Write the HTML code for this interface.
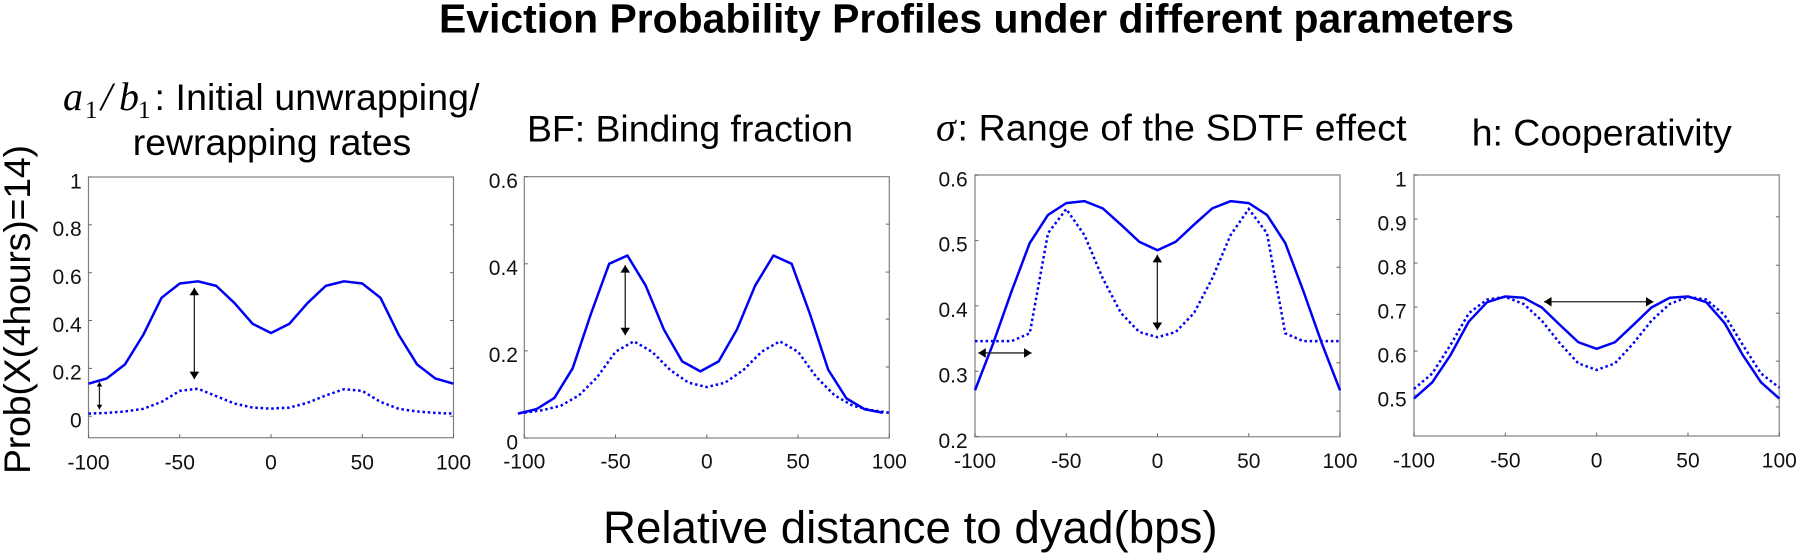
<!DOCTYPE html>
<html lang="en">
<head>
<meta charset="utf-8">
<title>Eviction Probability Profiles under different parameters</title>
<style>
html,body{margin:0;padding:0;background:#fff;width:1800px;height:557px;overflow:hidden}
svg{display:block}
text{font-family:"Liberation Sans",sans-serif;fill:#000}
.math{font-family:"Liberation Serif",serif;font-style:italic;font-size:40px}
.sub{font-family:"Liberation Serif",serif;font-size:25px}
.pt{font-size:37.4px}
.tick{font-size:21px;fill:#111}
</style>
</head>
<body>
<svg id="fig" xmlns="http://www.w3.org/2000/svg" width="1800" height="557" viewBox="0 0 1800 557">
  <rect width="1800" height="557" fill="#fff"/>
  <text x="439" y="32.3" font-size="41" font-weight="700" textLength="1075" lengthAdjust="spacingAndGlyphs">Eviction Probability Profiles under different parameters</text>

  <g>
    <text class="math" x="63" y="110">a</text>
    <text class="sub" x="85" y="118">1</text>
    <text class="math" x="101" y="110">/</text>
    <text class="math" x="119" y="110">b</text>
    <text class="sub" x="138" y="118">1</text>
  </g>
  <text class="pt" x="154.5" y="110" textLength="325" lengthAdjust="spacing">: Initial unwrapping/</text>
  <text class="pt" x="272" y="155" text-anchor="middle">rewrapping rates</text>
  <text class="pt" x="527" y="141.7" textLength="326" lengthAdjust="spacing">BF: Binding fraction</text>
  <text class="math" x="936" y="140.7">σ</text>
  <text class="pt" x="957.5" y="140.7" textLength="449" lengthAdjust="spacing">: Range of the SDTF effect</text>
  <text class="pt" x="1471.7" y="145.7" textLength="260" lengthAdjust="spacing">h: Cooperativity</text>

  <text class="pt" transform="translate(30,474) rotate(-90)" textLength="329" lengthAdjust="spacing">Prob(X(4hours)=14)</text>
  <text x="603" y="543" font-size="45.7">Relative distance to dyad(bps)</text>
</svg>

<script>
// Shared x categories and tick labels
const distances = [-100,-90,-80,-70,-60,-50,-40,-30,-20,-10,0,10,20,30,40,50,60,70,80,90,100];
const xTicks = [-100,-50,0,50,100];

// Panel 1: a1/b1
const p1Solid  = [.136,.158,.217,.34,.495,.555,.564,.545,.473,.386,.348,.386,.473,.545,.564,.555,.495,.34,.217,.158,.136];
const p1Dotted = [.011,.014,.02,.031,.06,.106,.115,.084,.053,.036,.032,.036,.056,.087,.113,.106,.06,.031,.02,.014,.011];
const p1YTicks = [0,.2,.4,.6,.8,1];
const p1YLabels = ["0","0.2","0.4","0.6","0.8","1"];
const p1RightTicks = [0,.2,.4,.6,.8];
const p1ArrowStarts = [[-42,.537],[-94,.143]];
const p1ArrowEnds = [[-42,.155],[-94,.029]];

// Panel 2: binding fraction (the solid trace sits slightly left of the axis origin)
const p2SolidDistances = [-103.5,-93.5,-83.5,-73.5,-63.5,-53.5,-43.5,-33.5,-23.5,-13.5,-3.5,6.5,16.5,26.5,36.5,46.5,56.5,66.5,76.5,86.5,96.5];
const p2Solid  = [.056,.066,.092,.16,.285,.40,.419,.35,.249,.176,.153,.176,.249,.35,.419,.40,.285,.157,.091,.066,.058];
const p2Dotted = [.058,.064,.074,.098,.14,.198,.222,.198,.156,.127,.117,.127,.156,.198,.222,.198,.14,.098,.074,.064,.058];
const p2YTicks = [0,.2,.4,.6];
const p2YLabels = ["0","0.2","0.4","0.6"];
const p2RightTicks = [.057,.163,.273,.381,.491];
const p2ArrowStarts = [[-44.7,.397]];
const p2ArrowEnds = [[-44.7,.236]];

// Panel 3: sigma
const p3Solid  = [.271,.343,.422,.496,.539,.557,.56,.549,.524,.498,.485,.498,.524,.549,.56,.557,.539,.496,.422,.343,.271];
const p3Dotted = [.346,.346,.346,.358,.511,.548,.508,.442,.389,.36,.352,.36,.389,.442,.508,.548,.511,.358,.346,.346,.346];
const p3YTicks = [.2,.3,.4,.5,.6];
const p3YLabels = ["0.2","0.3","0.4","0.5","0.6"];
const p3RightTicks = [.239,.313,.387,.459,.532];
const p3ArrowStarts = [[-.1,.478],[-98.2,.328]];
const p3ArrowEnds = [[-.1,.363],[-69,.328]];

// Panel 4: cooperativity
const p4Solid  = [.492,.529,.591,.667,.711,.724,.721,.699,.659,.62,.605,.62,.659,.699,.721,.724,.711,.664,.591,.529,.492];
const p4Dotted = [.514,.549,.614,.686,.717,.723,.707,.669,.617,.572,.557,.572,.617,.669,.707,.723,.717,.682,.614,.549,.517];
const p4YTicks = [.5,.6,.7,.8,.9,1];
const p4YLabels = ["0.5","0.6","0.7","0.8","0.9","1"];
const p4RightTicks = [.473,.577,.686,.795,.905];
const p4ArrowStarts = [[-28.8,.712]];
const p4ArrowEnds = [[31.1,.712]];

const NS = "http://www.w3.org/2000/svg";
const svg = document.getElementById("fig");
function mk(tag, attrs, parent){
  const el = document.createElementNS(NS, tag);
  for (const k in attrs) el.setAttribute(k, attrs[k]);
  (parent || svg).appendChild(el);
  return el;
}

function drawPanel(o){
  const sx = v => o.left + (v + 100) / 200 * (o.right - o.left);
  const sy = v => o.bottom - (v - o.yMin) / (o.yMax - o.yMin) * (o.bottom - o.top);
  const g = mk("g", {});
  
  

  const frame = mk("rect", {x:o.left, y:o.top, width:o.right-o.left, height:o.bottom-o.top, fill:"none", stroke:o.axis, "stroke-width":o.axisW}, g);
  
  

  xTicks.forEach(t => {
    const tk = mk("line", {x1:sx(t), x2:sx(t), y1:o.bottom, y2:o.bottom-3.5, stroke:"#666", "stroke-width":1}, g);
    
    
    const lb = mk("text", {x:sx(t), y:o.xLabelY, "text-anchor":"middle", class:"tick"}, g);
    
    
    lb.textContent = t;
  });
  o.yTicks.forEach((t, i) => {
    const tk = mk("line", {x1:o.left, x2:o.left+3.5, y1:sy(t), y2:sy(t), stroke:"#666", "stroke-width":1}, g);
    
    
    const lb = mk("text", {x:o.labelRight, y:sy(t)+11.3, "text-anchor":"end", class:"tick"}, g);
    
    
    lb.textContent = o.yLabels[i];
  });
  o.rightTicks.forEach(t => {
    const tk = mk("line", {x1:o.right, x2:o.right-3.5, y1:sy(t), y2:sy(t), stroke:"#666", "stroke-width":1}, g);
    
    
  });

  const pts = (xs, ys) => xs.map((x, i) => sx(x).toFixed(2) + "," + sy(ys[i]).toFixed(2)).join(" ");
  const dotted = mk("polyline", {points:pts(distances, o.dotted), fill:"none", stroke:"#0000f5", "stroke-width":2.5, "stroke-dasharray":"2.5 2.8"}, g);
  
  
  const solid = mk("polyline", {points:pts(o.solidX, o.solid), fill:"none", stroke:"#0000f5", "stroke-width":2.5, "stroke-linejoin":"round"}, g);
  
  

  o.arrowStarts.forEach((s, i) => {
    const e = o.arrowEnds[i];
    const x1 = sx(s[0]), y1 = sy(s[1]), x2 = sx(e[0]), y2 = sy(e[1]);
    const len = Math.hypot(x2-x1, y2-y1);
    const ux = (x2-x1)/len, uy = (y2-y1)/len;
    const h = len > 40 ? 7.5 : 4.5, w = len > 40 ? 4.8 : 2.8;
    const ag = mk("g", {}, g);
    
    
    mk("line", {x1:x1, y1:y1, x2:x2, y2:y2, stroke:"#222", "stroke-width":1.3}, ag);
    const head = (px, py, dx, dy) => {
      const bx = px - dx*h, by = py - dy*h;
      const p = [px+","+py, (bx-dy*w)+","+(by+dx*w), (bx+dy*w)+","+(by-dx*w)].join(" ");
      mk("polygon", {points:p, fill:"#000"}, ag);
    };
    head(x2, y2, ux, uy);
    head(x1, y1, -ux, -uy);
  });
}

drawPanel({name:"panel-initial-rates", left:88.5, right:453.5, top:177, bottom:437.7, yMin:-.0897, yMax:1, axis:"#808080", axisW:1.2,
  xLabelY:469.3, labelRight:81.7, yTicks:p1YTicks, yLabels:p1YLabels, rightTicks:p1RightTicks,
  solidX:distances, solid:p1Solid, dotted:p1Dotted, arrowStarts:p1ArrowStarts, arrowEnds:p1ArrowEnds});
drawPanel({name:"panel-binding-fraction", left:524.3, right:889.3, top:176.7, bottom:438, yMin:0, yMax:.6, axis:"#808080", axisW:1.2,
  xLabelY:468.3, labelRight:518, yTicks:p2YTicks, yLabels:p2YLabels, rightTicks:p2RightTicks,
  solidX:p2SolidDistances, solid:p2Solid, dotted:p2Dotted, arrowStarts:p2ArrowStarts, arrowEnds:p2ArrowEnds});
drawPanel({name:"panel-sdtf-range", left:975, right:1340, top:175, bottom:436.7, yMin:.2, yMax:.6, axis:"#a0a0a0", axisW:1.6,
  xLabelY:468, labelRight:967.7, yTicks:p3YTicks, yLabels:p3YLabels, rightTicks:p3RightTicks,
  solidX:distances, solid:p3Solid, dotted:p3Dotted, arrowStarts:p3ArrowStarts, arrowEnds:p3ArrowEnds});
drawPanel({name:"panel-cooperativity", left:1414, right:1779.3, top:175, bottom:436, yMin:.407, yMax:1, axis:"#a0a0a0", axisW:1.6,
  xLabelY:467.7, labelRight:1406.7, yTicks:p4YTicks, yLabels:p4YLabels, rightTicks:p4RightTicks,
  solidX:distances, solid:p4Solid, dotted:p4Dotted, arrowStarts:p4ArrowStarts, arrowEnds:p4ArrowEnds});
</script>
</body>
</html>
